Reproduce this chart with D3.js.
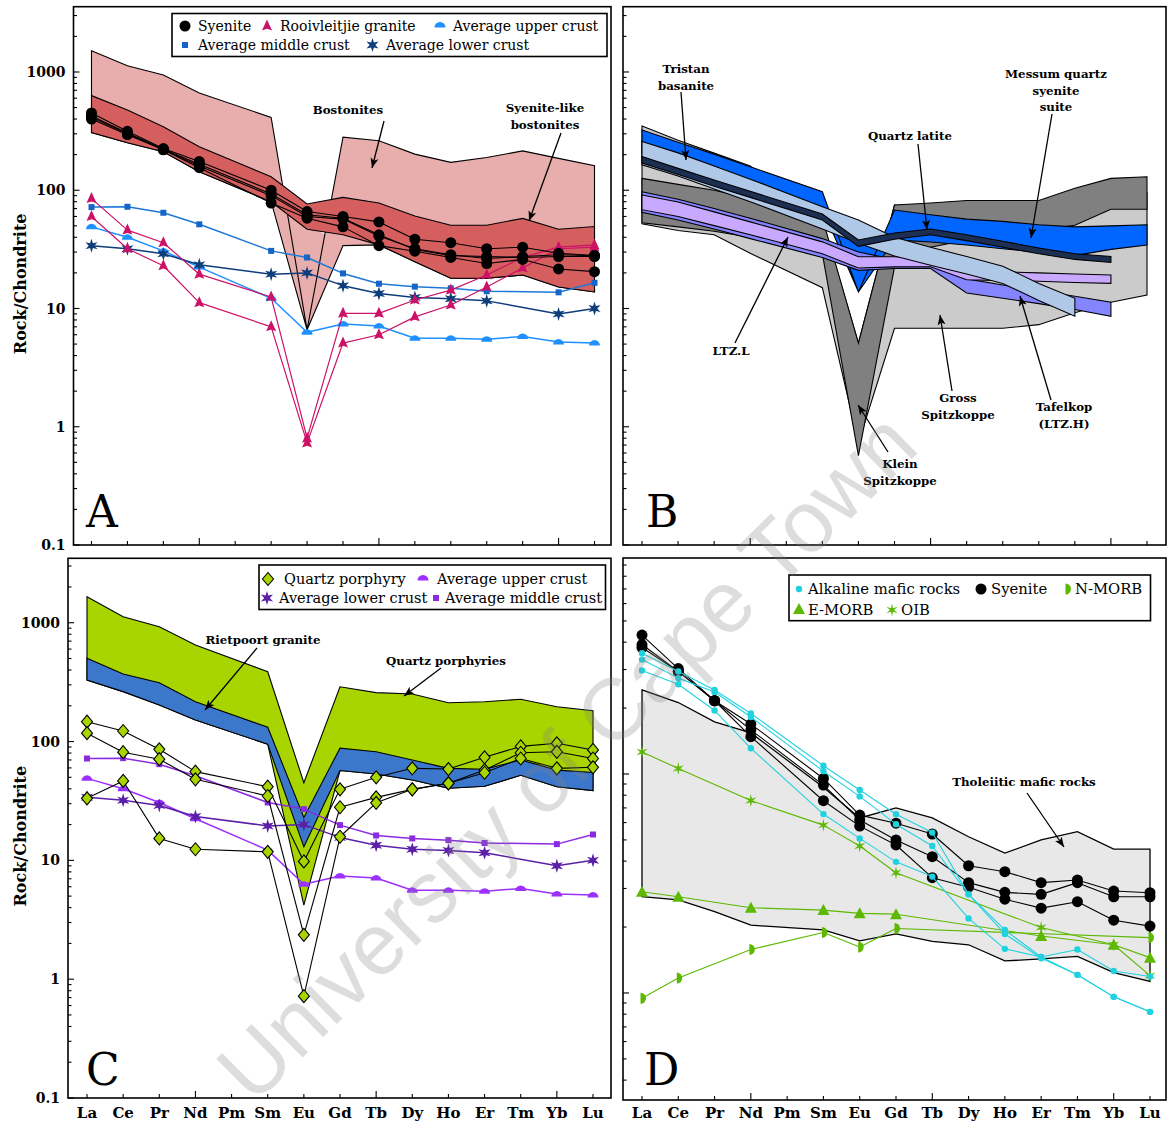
<!DOCTYPE html>
<html><head><meta charset="utf-8">
<script src="https://cdn.jsdelivr.net/npm/d3@7"></script>
<style>body{margin:0;background:#fff}svg{display:block}</style>
</head><body>
<svg id="fig" width="1167" height="1124"></svg>
<script>
// Rare earth elements along the x axis
const ree = ["La","Ce","Pr","Nd","Pm","Sm","Eu","Gd","Tb","Dy","Ho","Er","Tm","Yb","Lu"];
const yTickLabels = ["0.1","1","10","100","1000"];

// ---------- Panel A : Rock/Chondrite ----------
const bostonitesUpper = [1515,1131,944,664,null,413,6.6,281,262,202,172,189,215,186,161];
const bostonitesLower = [307,252,212,143.5,null,80,6.6,34,34.5,24.9,18,18,19.2,15.2,13.8];
const syeniteLikeUpper = [631,477,344,233,null,130,76.5,87,78,60.6,50.6,50.6,57.8,46.8,49.3];
const syeniteLikeLower = [307,252,212,143.5,null,80,46.8,42,34.5,24.9,18,18,19.2,15.2,13.8];
const syeniteA1 = [450,315,225,175,null,100,66,60,54,38.5,36,32,33,29.3,28];
const syeniteA2 = [425,305,222,166,null,93,62,58,42,31.5,28,27.5,27,27.5,27.5];
const syeniteA3 = [400,295,220,155,null,78,58,49,34,30.5,27,24,26,21.6,20.5];
const syeniteA4 = [415,300,221,160,null,90,60,57,41,32,28.5,26.5,27.5,28.5,28];
const rooivleitjie1 = [85,46,36,19.5,null,12.5,0.8,9.1,9.1,11.8,14.3,19.2,27,33,34.5];
const rooivleitjie2 = [60,32,23,11.2,null,7.0,0.73,5.1,6.0,8.5,10.7,15.2,22,32,33];
const upperCrust = [49,40,30.7,22.4,null,12.2,6.3,7.4,7.1,5.6,5.6,5.5,5.8,5.2,5.1];
const middleCrust = [72,72.5,64.5,51.5,null,30.7,27,19.8,16.2,15.3,14.8,14.0,null,13.7,16.5];
const lowerCrust = [34,32,29,23.4,null,19.5,20,15.6,13.4,12.4,12.1,11.6,null,9.0,10.0];

// ---------- Panel B : comparison fields ----------
const grossUpper = [349,265,206,160,null,55,5.1,75,70,68,66,64,75,95,95];
const grossLower = [52,45.6,42,29.3,null,15,0.73,6.8,6.8,6.8,6.8,7.3,9.2,11.3,13];
const kleinUpper = [126,112,100,85,null,58,5.1,75,78,82,82,82,104,126,130];
const kleinLower = [53,49,45,40,null,29,0.57,22.4,33,38,42,46,50.6,69,69];
const messumUpper = [323,255,202,158,null,97,13.8,68,62,57,54.5,51,49,50,51];
const messumLower = [205,170,140,112,null,70,13.8,38,36.5,34.4,32,30,28,31.6,34.4];
const tafelkopUpper = [97,84,70,58,null,39,30,26,25,17.8,15.8,14.2,12.7,11.3,null];
const tafelkopLower = [65,56,47,39,null,27,21,21.8,21.8,13.5,12.2,11,9.8,8.6,null];
const ltzlUpper = [91,79.5,65.6,54,null,36.6,27.4,27.4,26.7,21,20.4,20,19.6,19.2,null];
const ltzlLower = [68.5,60,50.2,42.1,null,29,22,22.5,22.5,17.5,17.2,17,16.6,16.3,null];
const tristanUpper = [258,207,160,124,null,72.6,56,40,33,27.5,22.8,16.3,12.2,null,null];
const tristanLower = [164,132,102.5,80,null,47,35.6,27.8,23.2,19.6,16.3,11.7,8.6,null,null];
const latiteUpper = [193,153,122,98,null,63,38,43.5,47,42,37,32.5,29,27.5,null];
const latiteLower = [170,136,108,87,null,56,33.5,38.5,42,37.5,33,29,26,24.5,null];

// ---------- Panel C ----------
const porphyriesUpper = [1656,1123,925,649,null,387,45,289,258,251,212,216,227,196,182];
const porphyriesLower = [329,263,203,152,null,95,4.2,57,53.3,47.4,40.5,42,52,41.7,38.7];
const rietpoortUpper = [502,370,313,216,null,132,23,88,82,70,59.5,58.5,70,57.5,55];
const rietpoortLower = [329,263,203,152,null,95,13,57,53.3,47.4,40.5,42,52,41.7,38.7];
const porphyry1 = [147,122.7,86,55.8,null,41.7,9.8,39.6,50,59.5,58.7,73.7,91,96.7,85];
const porphyry2 = [117.5,81.3,71,48.1,null,34.8,2.36,28,33.9,39.6,44.5,57.5,80.5,82,72];
const porphyry3 = [33.3,46.6,15.3,12.4,null,11.8,0.72,15.8,30.5,39.6,44.5,54.6,72,59.5,60.7];

// ---------- Panel D ----------
const tholeiiticUpper = [24.2,21.2,17.3,15.4,null,8.7,6.3,7.0,6.3,5.17,4.35,5.0,5.45,4.54,4.54];
const tholeiiticLower = [2.75,2.66,2.35,2.04,null,1.94,1.73,1.86,1.72,1.66,1.40,1.43,1.47,1.24,1.13];
const alkaline1 = [35.6,29.4,24.2,18.9,null,10.9,8.45,6.55,5.4,2.82,1.94,1.46,1.21,0.96,0.82];
const alkaline2 = [33.3,27.4,23.7,18.2,null,10.3,7.9,5.9,4.69,2.82,1.86,1.44,1.21,0.96,0.82];
const alkaline3 = [29.7,25.7,19.5,13.1,null,6.56,5.08,3.97,3.4,2.19,1.59,1.46,1.58,1.26,1.19];
const syeniteD1 = [43.1,30.3,21.6,16.9,null,9.54,6.49,5.96,5.32,3.81,3.58,3.19,3.28,2.92,2.87];
const syeniteD2 = [39.0,29.4,21.6,15.9,null,8.9,6.17,5.0,4.19,3.19,2.88,2.82,3.19,2.75,2.75];
const syeniteD3 = [37.8,29.4,21.6,14.8,null,7.55,5.78,4.74,3.36,3.04,2.68,2.44,2.61,2.15,2.02];
const nMorb = [0.946,1.17,null,1.58,null,1.89,1.62,1.97,null,null,null,null,null,null,1.79];
const eMorb = [2.9,2.75,null,2.45,null,2.39,2.31,2.29,null,null,null,1.82,null,1.66,1.45];
const oib = [12.6,10.6,null,7.56,null,5.84,4.69,3.54,null,null,null,1.99,null,1.66,1.2];

// ---------- drawing ----------
const SERIF = "'DejaVu Serif', serif";
const svg = d3.select("#fig");
svg.append("rect").attr("width",1167).attr("height",1124).attr("fill","#fff");
const defs = svg.append("defs");
defs.append("marker").attr("id","arrow").attr("viewBox","0 0 10 10")
  .attr("refX",10).attr("refY",5).attr("markerWidth",10).attr("markerHeight",10)
  .attr("markerUnits","userSpaceOnUse").attr("orient","auto")
  .append("path").attr("d","M0,1 L10,5 L0,9 L2.5,5 Z").attr("fill","#000");

function makePanel(id, P){
  const x = d3.scaleLinear().domain([0, ree.length-1]).range([P.xLa, P.xLu]);
  const y = d3.scaleLog().domain(P.dom).range([P.bottom, P.top]);
  defs.append("clipPath").attr("id","clip"+id).append("rect")
    .attr("x",P.left).attr("y",P.top).attr("width",P.right-P.left).attr("height",P.bottom-P.top);
  const g = svg.append("g");
  const plot = g.append("g").attr("clip-path",`url(#clip${id})`);
  return {x, y, P, g, plot};
}

const line = p => d3.line().x(d=>p.x(d[0])).y(d=>p.y(d[1]));
const pts = vals => vals.map((v,i)=>[i,v]).filter(d=>d[1]!=null);

function envelope(p, upper, lower, fill, sw=1.1){
  const ring = pts(upper).concat(pts(lower).reverse());
  p.plot.append("path").attr("d", line(p)(ring)+"Z")
    .attr("fill",fill).attr("stroke","#000").attr("stroke-width",sw).attr("stroke-linejoin","miter");
}
// fill of the Eu notch between the lower edges around Sm-Eu-Gd
function notch(p, lower, fill){
  const tri = [5,6,7].map(i=>[i, lower[i]]);
  p.plot.append("path").attr("d", line(p)(tri)+"Z").attr("fill",fill).attr("stroke","none");
}
function band(p, upper, lower, fill){ envelope(p, upper, lower, fill, 1.1); }

function starPath(x,y,R,r,n=6){
  let s="";
  for(let k=0;k<2*n;k++){
    const a=-Math.PI/2+k*Math.PI/n, rr=k%2?r:R;
    s+=(k?"L":"M")+(x+rr*Math.cos(a)).toFixed(2)+","+(y+rr*Math.sin(a)).toFixed(2);
  }
  return s+"Z";
}
const marks = {
  circle:(g,x,y,o)=>g.append("circle").attr("cx",x).attr("cy",y).attr("r",o.r||5.5).attr("fill",o.fill).attr("stroke",o.stroke||"none"),
  tri:(g,x,y,o)=>g.append("path").attr("d",`M${x},${y-6.5}L${x+5},${y+4.5}L${x},${y+2.8}L${x-5},${y+4.5}Z`).attr("fill",o.fill),
  triangle:(g,x,y,o)=>g.append("path").attr("d",`M${x},${y-6}L${x+6},${y+5}L${x-6},${y+5}Z`).attr("fill",o.fill),
  dome:(g,x,y,o)=>g.append("path").attr("d",`M${x-5.5},${y+2.5}A5.5,5.5 0 0 1 ${x+5.5},${y+2.5}Z`).attr("fill",o.fill),
  halfR:(g,x,y,o)=>g.append("path").attr("d",`M${x-1.5},${y-5.5}A5.5,5.5 0 0 1 ${x-1.5},${y+5.5}Z`).attr("fill",o.fill),
  square:(g,x,y,o)=>g.append("rect").attr("x",x-3).attr("y",y-3).attr("width",6).attr("height",6).attr("fill",o.fill),
  star:(g,x,y,o)=>g.append("path").attr("d",starPath(x,y,o.R||7,o.ri||2.8)).attr("fill",o.fill),
  diamond:(g,x,y,o)=>g.append("path").attr("d",`M${x},${y-6.5}L${x+5.5},${y}L${x},${y+6.5}L${x-5.5},${y}Z`).attr("fill",o.fill).attr("stroke","#000").attr("stroke-width",1.1)
};
function series(p, list, color, sw, mark, opt){
  const gl = p.plot.append("g");
  list.forEach(vals=>{
    gl.append("path").attr("d",line(p)(pts(vals))).attr("fill","none")
      .attr("stroke",color).attr("stroke-width",sw).attr("stroke-linejoin","round");
  });
  list.forEach(vals=>{
    pts(vals).forEach(d=>marks[mark](gl,p.x(d[0]),p.y(d[1]),opt));
  });
}

function axes(p, showY, showX){
  const P=p.P, g=p.g;
  // y ticks: every 1..9 x 10^k
  const lo=Math.floor(Math.log10(P.dom[0])), hi=Math.ceil(Math.log10(P.dom[1]));
  for(let k=lo;k<=hi;k++) for(let m=1;m<=9;m++){
    const v=m*Math.pow(10,k);
    if(v<P.dom[0]*0.999||v>P.dom[1]) continue;
    const yy=p.y(v), len=m===1?6:3.5;
    g.append("line").attr("x1",P.left).attr("x2",P.left+len).attr("y1",yy).attr("y2",yy)
      .attr("stroke","#000").attr("stroke-width",1.1);
  }
  ree.forEach((r,i)=>{
    const xx=p.x(i), len=(i===3||i===8||i===13)?7:4;
    g.append("line").attr("x1",xx).attr("x2",xx).attr("y1",P.bottom).attr("y2",P.bottom-len)
      .attr("stroke","#000").attr("stroke-width",1.1);
  });
  g.append("rect").attr("x",P.left).attr("y",P.top).attr("width",P.right-P.left).attr("height",P.bottom-P.top)
    .attr("fill","none").attr("stroke","#000").attr("stroke-width",1.6);
  if(showY){
    yTickLabels.forEach(t=>{
      g.append("text").attr("x",P.left-8).attr("y",p.y(+t)).attr("dy","0.36em")
        .attr("text-anchor","end").attr("font-family",SERIF).attr("font-weight","bold")
        .attr("font-size",14).text(t);
    });
    g.append("text").attr("transform",`translate(26,${(P.top+P.bottom)/2+8}) rotate(-90)`)
      .attr("text-anchor","middle").attr("font-family",SERIF).attr("font-weight","bold")
      .attr("font-size",16).text("Rock/Chondrite");
  }
  if(showX){
    ree.forEach((r,i)=>{
      g.append("text").attr("x",p.x(i)).attr("y",1118).attr("text-anchor","middle")
        .attr("font-family",SERIF).attr("font-weight","bold").attr("font-size",15).text(r);
    });
  }
}
function letter(p, t, x, y){
  p.g.append("text").attr("x",x).attr("y",y).attr("font-family",SERIF).attr("font-size",44).text(t);
}
function note(g, lines, cx, y0, dy=16.5){
  lines.forEach((t,k)=>g.append("text").attr("x",cx).attr("y",y0+k*dy).attr("text-anchor","middle")
    .attr("font-family",SERIF).attr("font-weight","bold").attr("font-size",11.8).text(t));
}
function arrow(g, x1,y1,x2,y2){
  g.append("line").attr("x1",x1).attr("y1",y1).attr("x2",x2).attr("y2",y2)
    .attr("stroke","#000").attr("stroke-width",1.3).attr("marker-end","url(#arrow)");
}
function legendBox(g, x,y,w,h){
  g.append("rect").attr("x",x).attr("y",y).attr("width",w).attr("height",h)
    .attr("fill","#fff").attr("stroke","#000").attr("stroke-width",1.6);
}
function legendText(g, t, x, y, fs){
  g.append("text").attr("x",x).attr("y",y).attr("dy","0.35em").attr("font-family",SERIF)
    .attr("font-size",fs).text(t);
}

// ===== Panel A =====
const A = makePanel("A",{left:73.5,right:611,top:6.7,bottom:545,xLa:91.5,xLu:594.5,dom:[0.1,3565]});
notch(A, bostonitesLower, "#e8adad");
envelope(A, bostonitesUpper, bostonitesLower, "#e8adad");
envelope(A, syeniteLikeUpper, syeniteLikeLower, "#d55f5f");
series(A,[upperCrust],"#1e90ff",1.5,"dome",{fill:"#1e90ff"});
series(A,[middleCrust],"#1f78d8",1.5,"square",{fill:"#1565c8"});
series(A,[lowerCrust],"#0d3d7a",1.5,"star",{fill:"#0d3d7a"});
series(A,[rooivleitjie1,rooivleitjie2],"#cc1166",1.2,"tri",{fill:"#cc1166"});
series(A,[syeniteA1,syeniteA2,syeniteA3,syeniteA4],"#000",1.1,"circle",{fill:"#000"});
axes(A,true,false);
letter(A,"A",86,527);
note(A.g,["Bostonites"],348,114);
arrow(A.g,384,121,372,168);
note(A.g,["Syenite-like","bostonites"],545,112);
arrow(A.g,561,133,529,221);
{
  const g=A.g; legendBox(g,172,13.5,435,43);
  marks.circle(g,185,26,{fill:"#000"}); legendText(g,"Syenite",198,26,14);
  marks.tri(g,267,26,{fill:"#cc1166"}); legendText(g,"Rooivleitjie granite",280,26,14);
  marks.dome(g,440,25,{fill:"#1e90ff"}); legendText(g,"Average upper crust",453,26,14);
  marks.square(g,185,45,{fill:"#1565c8"}); legendText(g,"Average middle crust",198,45,14);
  marks.star(g,372.5,45,{fill:"#0d3d7a"}); legendText(g,"Average lower crust",386,45,14);
}

// ===== Panel B =====
const B = makePanel("B",{left:623,right:1166,top:6.7,bottom:545,xLa:642,xLu:1147,dom:[0.1,3565]});
envelope(B, grossUpper, grossLower, "#cbcbcb");
envelope(B, kleinUpper, kleinLower, "#808080");
notch(B, messumLower, "#0066ff");
envelope(B, messumUpper, messumLower, "#0066ff");
band(B, tafelkopUpper, tafelkopLower, "#8585ff");
band(B, ltzlUpper, ltzlLower, "#c9a9ff");
band(B, tristanUpper, tristanLower, "#b0c8e8");
band(B, latiteUpper, latiteLower, "#1c2f52");
axes(B,false,false);
letter(B,"B",646,527);
note(B.g,["Tristan","basanite"],686,73);
arrow(B.g,681,92,686,160);
note(B.g,["Messum quartz","syenite","suite"],1056,78);
arrow(B.g,1052,114,1031,238);
note(B.g,["Quartz latite"],910,140);
arrow(B.g,918,144,927,230);
note(B.g,["LTZ.L"],731,355);
arrow(B.g,735,343,788,237);
note(B.g,["Gross","Spitzkoppe"],958,402);
arrow(B.g,952,391,940,315);
note(B.g,["Tafelkop","(LTZ.H)"],1064,411);
arrow(B.g,1051,400,1020,296);
note(B.g,["Klein","Spitzkoppe"],900,468);
arrow(B.g,888,452,858,405);

// ===== Panel C =====
const C = makePanel("C",{left:68,right:611,top:558.3,bottom:1098,xLa:87,xLu:593,dom:[0.1,3485]});
envelope(C, porphyriesUpper, porphyriesLower, "#a8d400");
envelope(C, rietpoortUpper, rietpoortLower, "#3b78cb");
series(C,[middleCrust],"#8a2be2",1.5,"square",{fill:"#8a2be2"});
series(C,[upperCrust],"#9b30ff",1.5,"dome",{fill:"#9b30ff"});
series(C,[lowerCrust],"#5b1fa8",1.5,"star",{fill:"#5b1fa8"});
series(C,[porphyry1,porphyry2,porphyry3],"#000",1.1,"diamond",{fill:"#a8d400"});
axes(C,true,true);
letter(C,"C",86,1085);
note(C.g,["Rietpoort granite"],263,644);
arrow(C.g,257,648,205,710);
note(C.g,["Quartz porphyries"],446,665);
arrow(C.g,441,668,404,696);
{
  const g=C.g; legendBox(g,259,565,346.5,44.5);
  marks.diamond(g,268,579,{fill:"#a8d400"}); legendText(g,"Quartz porphyry",284,579,14.5);
  marks.dome(g,423,578,{fill:"#9b30ff"}); legendText(g,"Average upper crust",437,579,14.5);
  marks.star(g,267,598,{fill:"#5b1fa8"}); legendText(g,"Average lower crust",279,598,14.5);
  marks.square(g,436,598,{fill:"#8a2be2"}); legendText(g,"Average middle crust",445,598,14.5);
}

// ===== Panel D =====
const D = makePanel("D",{left:623,right:1166,top:558,bottom:1100,xLa:642,xLu:1150,dom:[0.3245,96.9]});
envelope(D, tholeiiticUpper, tholeiiticLower, "#e8e8e8", 1.3);
series(D,[oib],"#5cb800",1.1,"star",{fill:"#5cb800",R:6.5,ri:2});
series(D,[eMorb],"#5cb800",1.1,"triangle",{fill:"#5cb800"});
series(D,[nMorb],"#5cb800",1.1,"halfR",{fill:"#5cb800"});
series(D,[syeniteD1,syeniteD2,syeniteD3],"#000",1.1,"circle",{fill:"#000"});
series(D,[alkaline1,alkaline2,alkaline3],"#20d2e0",1.1,"circle",{fill:"#20d2e0",r:3.2});
axes(D,false,true);
letter(D,"D",644,1085);
note(D.g,["Tholeiitic mafic rocks"],1024,786);
arrow(D.g,1027,793,1064,847);
{
  const g=D.g; legendBox(g,789,575,361.5,45.7);
  marks.circle(g,799,589,{fill:"#20d2e0",r:3.2}); legendText(g,"Alkaline mafic rocks",808,589,14.8);
  marks.circle(g,981,589,{fill:"#000"}); legendText(g,"Syenite",991,589,14.8);
  marks.halfR(g,1067,589,{fill:"#5cb800"}); legendText(g,"N-MORB",1075,589,14.8);
  marks.triangle(g,799,609,{fill:"#5cb800"}); legendText(g,"E-MORB",808,610,14.8);
  marks.star(g,892,610,{fill:"#5cb800",R:6.5,ri:2}); legendText(g,"OIB",901,610,14.8);
}

// source watermark
svg.append("text").attr("transform","translate(566,756) rotate(-44.5)")
  .attr("text-anchor","middle").attr("dy","0.35em").attr("font-family","'Liberation Sans', Arial, sans-serif")
  .attr("font-size",87).attr("fill","#808080").attr("fill-opacity",0.27)
  .text("University of Cape Town");
</script>
</body></html>
